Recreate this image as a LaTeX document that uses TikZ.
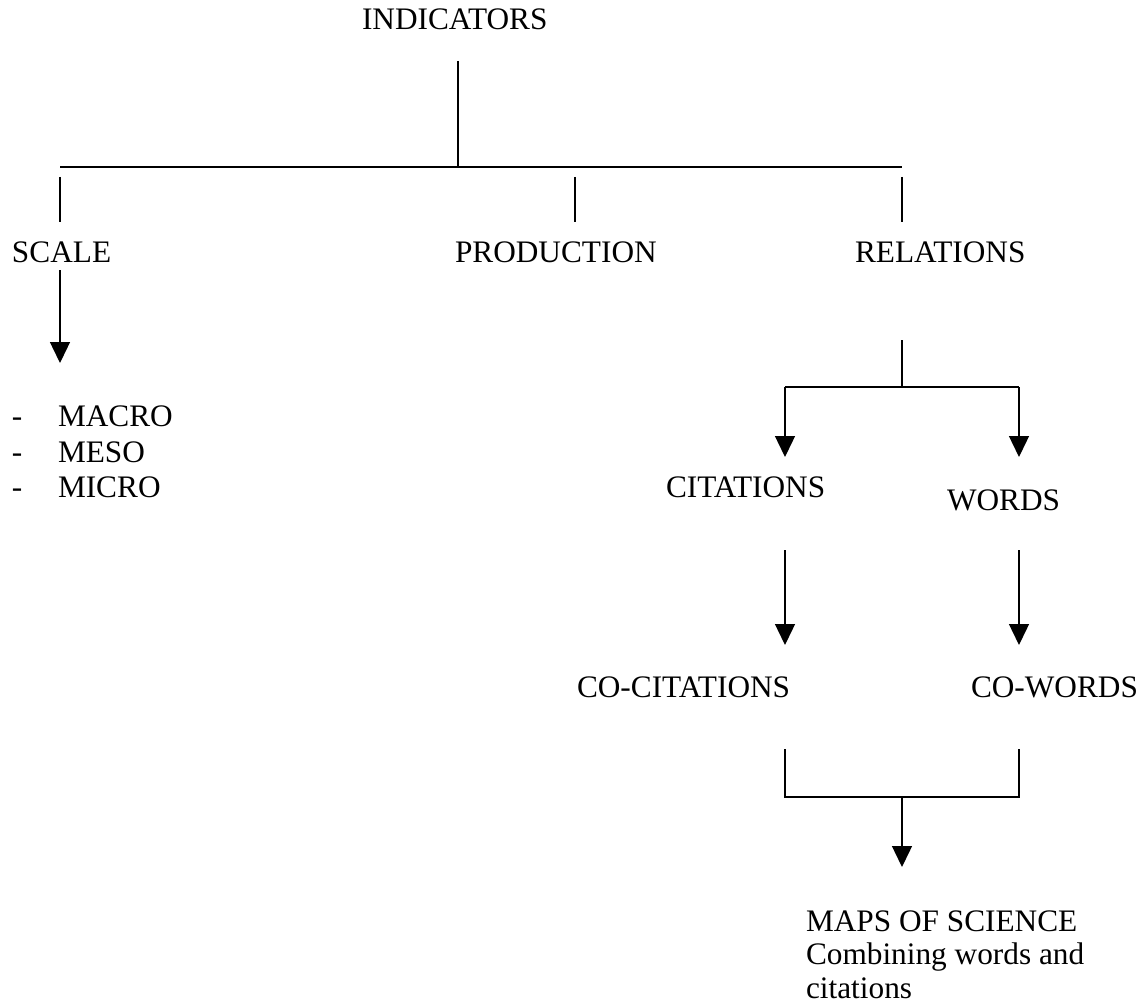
\documentclass[tikz,border=0pt]{standalone}
\usepackage{fontspec}
\setmainfont{Liberation Serif}
\usetikzlibrary{arrows.meta}
\begin{document}
\begin{tikzpicture}[x=1pt,y=-1pt,
  lbl/.style={inner sep=0pt,outer sep=0pt,anchor=base west,font=\fontsize{31.3}{36}\selectfont},
  conn/.style={line width=1.4pt,line cap=butt},
  bar/.style={line width=2.4pt},
  arr/.style={conn,-{Triangle[width=20pt,length=21pt]}}]
\fill[white] (0,0) rectangle (1144,1006);
\useasboundingbox (0,0) rectangle (1144,1006);
% texts
\node[lbl] (ind) at (362,30) {INDICATORS};
\node[lbl] (scale) at (12,262) {SCALE};
\node[lbl] (prod) at (455,262) {PRODUCTION};
\node[lbl] (rel) at (855,262) {RELATIONS};
\node[lbl] (d1) at (12,426) {-};
\node[lbl] (macro) at (58,426) {MACRO};
\node[lbl] (d2) at (12,462) {-};
\node[lbl] (meso) at (58,462) {MESO};
\node[lbl] (d3) at (12,497) {-};
\node[lbl] (micro) at (58,497) {MICRO};
\node[lbl] (cit) at (666,497) {CITATIONS};
\node[lbl] (words) at (947,510) {WORDS};
\node[lbl] (cocit) at (577,697) {CO-CITATIONS};
\node[lbl] (cowords) at (971,697) {CO-WORDS};
\node[lbl] (maps) at (806,931) {MAPS OF SCIENCE};
\node[lbl] (maps2) at (806,964) {Combining words and};
\node[lbl] (maps3) at (806,998) {citations};
% coordinates
\coordinate (indB) at (458,61);
\coordinate (hubT) at (458,167);
\coordinate (hL) at (60,167);
\coordinate (hR) at (902,167);
\coordinate (sT) at (60,177);   \coordinate (sB) at (60,222);
\coordinate (pT) at (575,177);  \coordinate (pB) at (575,222);
\coordinate (rT) at (902,177);  \coordinate (rB) at (902,222);
\coordinate (scA) at (60,270);  \coordinate (scB) at (60,363);
\coordinate (relA) at (902,340); \coordinate (relB) at (902,387);
\coordinate (citA) at (785,387); \coordinate (citB) at (785,457);
\coordinate (wA) at (1019,387);  \coordinate (wB) at (1019,457);
\coordinate (c2A) at (785,550);  \coordinate (c2B) at (785,645);
\coordinate (w2A) at (1019,550); \coordinate (w2B) at (1019,645);
\coordinate (bL) at (785,749);   \coordinate (bR) at (1019,749);
\coordinate (bLb) at (785,797);  \coordinate (bRb) at (1019,797);
\coordinate (bM) at (902,797);   \coordinate (mB) at (902,867);
% connectors
\draw[conn] (indB) -- (hubT);
\draw[bar] (hL) -- (hR);
\draw[conn] (sT) -- (sB);
\draw[conn] (pT) -- (pB);
\draw[conn] (rT) -- (rB);
\draw[arr] (scA) -- (scB);
\draw[conn] (relA) -- (relB);
\draw[conn] (citA) -- (wA);
\draw[arr] (citA) -- (citB);
\draw[arr] (wA) -- (wB);
\draw[arr] (c2A) -- (c2B);
\draw[arr] (w2A) -- (w2B);
\draw[conn] (bL) -- (bLb) -- (bRb) -- (bR);
\draw[arr] (bM) -- (mB);
\end{tikzpicture}
\end{document}
